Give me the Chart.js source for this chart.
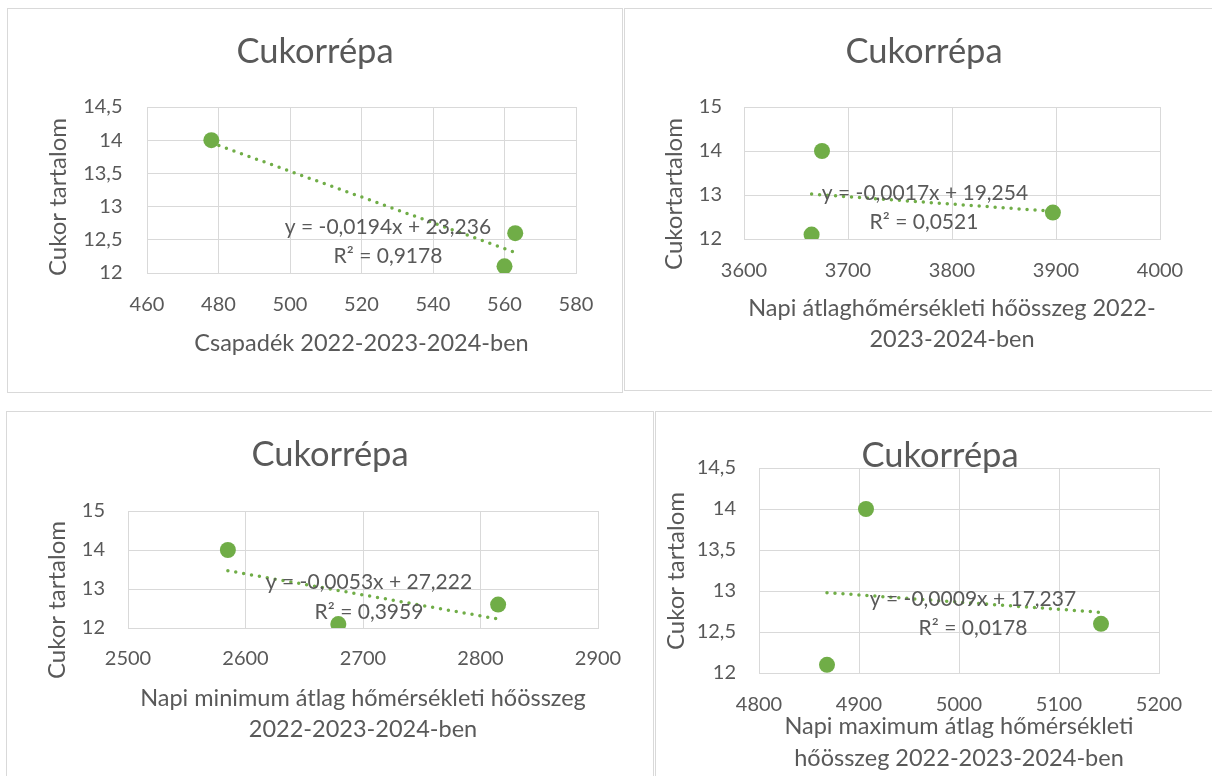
<!DOCTYPE html>
<html lang="hu">
<head>
<meta charset="utf-8">
<title>Cukorrépa</title>
<script src="https://cdn.jsdelivr.net/npm/chart.js@4/dist/chart.umd.min.js"></script>
<style>
  html, body { margin: 0; padding: 0; background: #fff; }
  body { width: 1212px; height: 776px; overflow: hidden; position: relative; }
  .panel { position: absolute; border: 1px solid #d9d9d9; box-sizing: border-box; background: #fff; }
  .panel canvas { position: absolute; left: 0; top: 0; }
</style>
</head>
<body>
<div class="panel" id="p1"><canvas id="c1"></canvas></div>
<div class="panel" id="p2"><canvas id="c2"></canvas></div>
<div class="panel" id="p3"><canvas id="c3"></canvas></div>
<div class="panel" id="p4"><canvas id="c4"></canvas></div>
<script>
// values
const chartTitle = "Cukorrépa";
const cukorTartalom = [14.0, 12.1, 12.6];

const csapadek = [478, 560, 563];
const atlagHo = [3675, 3665, 3897];
const minimumHo = [2585, 2679, 2815];
const maximumHo = [4907, 4868, 5142];

// trendline end points (as drawn)
const trend1X = [478, 563];   const trend1Y = [13.96, 12.31];
const trend2X = [3665, 3897]; const trend2Y = [13.02, 12.63];
const trend3X = [2585, 2815]; const trend3Y = [13.47, 12.23];
const trend4X = [4868, 5142]; const trend4Y = [12.98, 12.74];

const eq1 = ["y = -0,0194x + 23,236", "R² = 0,9178"];
const eq2 = ["y = -0,0017x + 19,254", "R² = 0,0521"];
const eq3 = ["y = -0,0053x + 27,222", "R² = 0,3959"];
const eq4 = ["y = -0,0009x + 17,237", "R² = 0,0178"];

// tick labels
const csapadekTicks = [460, 480, 500, 520, 540, 560, 580];
const atlagTicks = [3600, 3700, 3800, 3900, 4000];
const minimumTicks = [2500, 2600, 2700, 2800, 2900];
const maximumTicks = [4800, 4900, 5000, 5100, 5200];
const cukorTicksHalf = [12, 12.5, 13, 13.5, 14, 14.5];
const cukorTicksOne = [12, 13, 14, 15];

const xTitle1 = "Csapadék 2022-2023-2024-ben";
const xTitle2 = ["Napi átlaghőmérsékleti hőösszeg 2022-", "2023-2024-ben"];
const xTitle3 = ["Napi minimum átlag hőmérsékleti hőösszeg", "2022-2023-2024-ben"];
const xTitle4 = ["Napi maximum átlag hőmérsékleti", "hőösszeg 2022-2023-2024-ben"];
const yTitle1 = "Cukor tartalom";
const yTitle2 = "Cukortartalom";

// page layout (pixels)
const layouts = {
  p1: { box: [7, 8, 616, 385], plot: [147, 576, 107, 273], titleY: 51.5, yTitle: [58, 197], yLabelRight: 122.5, xLabelY: 305, xTitleY: 343.5, xTitleLH: 31, eq: [[388, 227], [388, 256]] },
  p2: { box: [624, 8, 600, 383], plot: [744, 1160, 107, 239], titleY: 51.5, yTitle: [674, 194], yLabelRight: 722, xLabelY: 271, xTitleY: 308.5, xTitleLH: 31, eq: [[925, 193], [924, 222]] },
  p3: { box: [6, 411, 648, 400], plot: [128, 598, 511, 628], titleY: 455, yTitle: [57, 600], yLabelRight: 105, xLabelY: 659, xTitleY: 698.5, xTitleLH: 31, eq: [[369, 582], [369, 612]] },
  p4: { box: [655, 411, 570, 400], plot: [759, 1159, 468, 673], titleY: 456, yTitle: [676, 571], yLabelRight: 736, xLabelY: 705, xTitleY: 726.5, xTitleLH: 32, eq: [[973, 599], [973, 628]] }
};

const GREEN = '#70ad47';
const TEXT = '#595959';
const GRID = '#d9d9d9';
const FONT = 'Lato, "Open Sans", sans-serif';
const TITLE_SIZE = 34.5;

const overlayText = {
  id: 'overlayText',
  afterDatasetsDraw(chart, args, opts) {
    const ctx = chart.ctx;
    ctx.save();
    ctx.fillStyle = TEXT;
    ctx.textAlign = 'center';
    ctx.textBaseline = 'middle';
    ctx.font = '24px ' + FONT;
    ctx.save();
    ctx.translate(opts.yTitle.x, opts.yTitle.y);
    ctx.rotate(-Math.PI / 2);
    ctx.fillText(opts.yTitle.text, 0, 0);
    ctx.restore();
    ctx.font = '21px ' + FONT;
    opts.eq.forEach((line) => ctx.fillText(line.text, line.x, line.y));
    ctx.restore();
  }
};

function comma(v) {
  return String(v).replace('.', ',');
}

function drawPanel(key, canvasId, xs, ys, trendX, trendY, xTicks, yTicks, xTitle, yTitle, eq) {
  const lay = layouts[key];
  const [bl, bt, bw, bh] = lay.box;
  const panel = document.getElementById(key);
  panel.style.left = bl + 'px';
  panel.style.top = bt + 'px';
  panel.style.width = bw + 'px';
  panel.style.height = bh + 'px';

  const ox = bl + 1, oy = bt + 1;
  const w = bw - 2, h = bh - 2;
  const canvas = document.getElementById(canvasId);
  canvas.width = w;
  canvas.height = h;

  const L = lay.plot[0] - ox, R = lay.plot[1] - ox;
  const T = lay.plot[2] - oy, B = lay.plot[3] - oy;
  const titleLH = TITLE_SIZE * 1.2;
  const tPadTop = lay.titleY - oy - titleLH / 2;
  const tPadBottom = T - tPadTop - titleLH;
  const xLines = Array.isArray(xTitle) ? xTitle.length : 1;
  const xTitlePad = h - (lay.xTitleY - oy) - lay.xTitleLH / 2 - lay.xTitleLH * (xLines - 1);

  new Chart(canvas, {
    type: 'scatter',
    data: {
      datasets: [
        {
          data: xs.map((x, i) => ({ x: x, y: ys[i] })),
          xAxisID: 'x',
          yAxisID: 'y',
          backgroundColor: GREEN,
          borderWidth: 0,
          pointRadius: 8,
          pointHoverRadius: 8
        },
        {
          data: trendX.map((x, i) => ({ x: x, y: trendY[i] })),
          xAxisID: 'x',
          yAxisID: 'y',
          showLine: true,
          borderColor: GREEN,
          borderWidth: 3.5,
          borderDash: [0, 8],
          borderCapStyle: 'round',
          pointRadius: 0,
          fill: false
        }
      ]
    },
    options: {
      responsive: false,
      animation: false,
      events: [],
      layout: { padding: 0 },
      plugins: {
        legend: { display: false },
        tooltip: { enabled: false },
        title: {
          display: true,
          text: chartTitle,
          color: TEXT,
          font: { family: FONT, size: TITLE_SIZE, weight: 'normal', lineHeight: 1.2 },
          padding: { top: tPadTop, bottom: tPadBottom }
        },
        overlayText: {
          yTitle: { text: yTitle, x: lay.yTitle[0] - ox, y: lay.yTitle[1] - oy },
          eq: eq.map((t, i) => ({ text: t, x: lay.eq[i][0] - ox, y: lay.eq[i][1] - oy }))
        }
      },
      scales: {
        x: {
          type: 'linear',
          min: xTicks[0],
          max: xTicks[xTicks.length - 1],
          afterBuildTicks: (s) => { s.ticks = xTicks.map((v) => ({ value: v })); },
          afterFit: (s) => { s.height = h - B; },
          grid: { color: GRID, lineWidth: 1, drawTicks: false },
          border: { color: GRID, width: 1 },
          ticks: {
            color: TEXT,
            font: { family: FONT, size: 20, lineHeight: 1.2 },
            padding: lay.xLabelY - oy - B - 12,
            maxRotation: 0,
            minRotation: 0,
            autoSkip: false,
            callback: (v) => comma(v)
          },
          title: {
            display: true,
            text: xTitle,
            color: TEXT,
            font: { family: FONT, size: 23.5, lineHeight: lay.xTitleLH / 23.5 },
            padding: { top: 0, bottom: xTitlePad }
          }
        },
        y: {
          type: 'linear',
          min: yTicks[0],
          max: yTicks[yTicks.length - 1],
          afterBuildTicks: (s) => { s.ticks = yTicks.map((v) => ({ value: v })); },
          afterFit: (s) => { s.width = L; },
          grid: { color: GRID, lineWidth: 1, drawTicks: false },
          border: { color: GRID, width: 1 },
          ticks: {
            color: TEXT,
            font: { family: FONT, size: 20, lineHeight: 1.2 },
            padding: L - (lay.yLabelRight - ox),
            callback: (v) => comma(v)
          }
        },
        // empty strip on the right so the plot ends where the picture's does
        yRight: {
          type: 'linear',
          position: 'right',
          afterFit: (s) => { s.width = w - R; },
          grid: { display: false, drawTicks: false },
          border: { display: false },
          ticks: { display: false }
        }
      }
    },
    plugins: [overlayText]
  });
}

drawPanel('p1', 'c1', csapadek, cukorTartalom, trend1X, trend1Y, csapadekTicks, cukorTicksHalf, xTitle1, yTitle1, eq1);
drawPanel('p2', 'c2', atlagHo, cukorTartalom, trend2X, trend2Y, atlagTicks, cukorTicksOne, xTitle2, yTitle2, eq2);
drawPanel('p3', 'c3', minimumHo, cukorTartalom, trend3X, trend3Y, minimumTicks, cukorTicksOne, xTitle3, yTitle1, eq3);
drawPanel('p4', 'c4', maximumHo, cukorTartalom, trend4X, trend4Y, maximumTicks, cukorTicksHalf, xTitle4, yTitle1, eq4);
</script>
</body>
</html>
